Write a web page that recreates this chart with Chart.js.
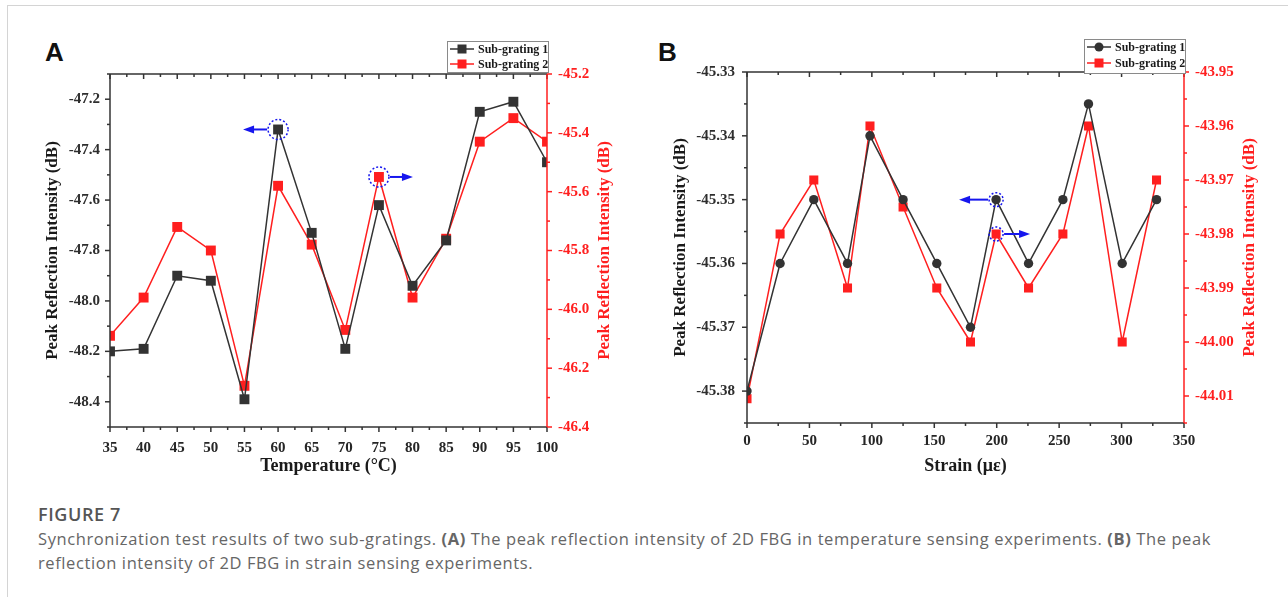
<!DOCTYPE html>
<html>
<head>
<meta charset="utf-8">
<title>Figure 7</title>
<script src="https://cdn.jsdelivr.net/npm/chart.js@4.4.0/dist/chart.umd.min.js"></script>
<style>
    body { margin: 0; background: #fff; width: 1288px; height: 597px; overflow: hidden; position: relative; font-family: 'Open Sans', 'Noto Sans', sans-serif; }
    .frame { position: absolute; left: 7px; top: 5px; right: 0; bottom: 0; border-left: 1px solid #d4d4d4; border-top: 1px solid #d4d4d4; }
    .panel-label { position: absolute; font: bold 26px/26px 'Liberation Sans', Arial, sans-serif; color: #111; }
    #chartA { position: absolute; left: 20px; top: 30px; }
    #chartB { position: absolute; left: 650px; top: 30px; }
    .caption { position: absolute; left: 38px; top: 502px; color: #666; letter-spacing: 0.6px; }
    .caption h4 { margin: 0; font-size: 18px; font-weight: 600; line-height: 25px; color: #555; }
    .caption p { margin: 0; font-size: 16.5px; line-height: 23.5px; }
</style>
</head>
<body>
<div class="frame"></div>
<div class="panel-label" style="left:45px; top:39px;">A</div>
<div class="panel-label" style="left:658px; top:39px;">B</div>
<canvas id="chartA" width="620" height="460"></canvas>
<canvas id="chartB" width="630" height="460"></canvas>
<div class="caption">
    <h4>FIGURE 7</h4>
    <p>Synchronization test results of two sub-gratings. <b>(A)</b> The peak reflection intensity of 2D FBG in temperature sensing experiments. <b>(B)</b> The peak<br>reflection intensity of 2D FBG in strain sensing experiments.</p>
</div>

<script>
// ---- data: panel A (temperature) ----
const seriesNames = ["Sub-grating 1", "Sub-grating 2"];
const yTitle = "Peak Reflection Intensity (dB)";

const tempC = [35, 40, 45, 50, 55, 60, 65, 70, 75, 80, 85, 90, 95, 100];
const tempSub1 = [-48.20, -48.19, -47.90, -47.92, -48.39, -47.32, -47.73, -48.19, -47.62, -47.94, -47.76, -47.25, -47.21, -47.45];
const tempSub2 = [-46.09, -45.96, -45.72, -45.80, -46.26, -45.58, -45.78, -46.07, -45.55, -45.96, -45.76, -45.43, -45.35, -45.43];
const tempTicksX = [35, 40, 45, 50, 55, 60, 65, 70, 75, 80, 85, 90, 95, 100];
const tempTicksLeft = [-48.4, -48.2, -48.0, -47.8, -47.6, -47.4, -47.2];
const tempTicksRight = [-46.4, -46.2, -46.0, -45.8, -45.6, -45.4, -45.2];

// ---- data: panel B (strain) ----
const strainUe = [0, 26.5, 53.5, 80.5, 98.5, 125, 152, 179, 199.5, 225.5, 253, 273.5, 300.5, 328];
const strainSub1 = [-45.38, -45.36, -45.35, -45.36, -45.34, -45.35, -45.36, -45.37, -45.35, -45.36, -45.35, -45.335, -45.36, -45.35];
const strainSub2 = [-44.0105, -43.98, -43.97, -43.99, -43.96, -43.975, -43.99, -44.00, -43.98, -43.99, -43.98, -43.96, -44.00, -43.97];
const strainTicksX = [0, 50, 100, 150, 200, 250, 300, 350];
const strainTicksLeft = [-45.38, -45.37, -45.36, -45.35, -45.34, -45.33];
const strainTicksRight = [-44.01, -44.00, -43.99, -43.98, -43.97, -43.96, -43.95];

const BLACK = "#333333";
const RED = "#ff1f1f";
const BLUE = "#1616ee";
const SERIF = "'Liberation Serif', 'Times New Roman', serif";

Chart.defaults.font.family = SERIF;

function pairs(xs, ys) {
    return xs.map((x, i) => ({ x: x, y: ys[i] }));
}

// walk major + minor tick positions of a scale
function eachTick(scale, fn) {
    const vals = scale.ticks.map(t => t.value);
    vals.forEach(v => fn(scale.getPixelForValue(v), true));
    if (vals.length < 2) return;
    const step = vals[1] - vals[0];
    const lo = Math.min(scale.min, scale.max), hi = Math.max(scale.min, scale.max);
    for (let v = vals[0] - step / 2; v <= hi + 1e-9; v += step) {
        if (v >= lo - 1e-9) fn(scale.getPixelForValue(v), false);
    }
}

// axes frame, ticks, right title, legend box and the blue markers
const figureExtras = {
    id: "figureExtras",
    afterDraw(chart, args, o) {
        const ctx = chart.ctx, a = chart.chartArea;
        const sx = chart.scales.x, sy = chart.scales.y, sy2 = chart.scales.y2;
        const seg = (x1, y1, x2, y2) => { ctx.beginPath(); ctx.moveTo(x1, y1); ctx.lineTo(x2, y2); ctx.stroke(); };

        ctx.save();
        ctx.lineWidth = 1.5;
        ctx.strokeStyle = BLACK;
        seg(a.left, a.top, a.right, a.top);
        seg(a.left, a.bottom, a.right, a.bottom);
        seg(a.left, a.top, a.left, a.bottom);
        eachTick(sx, (px, major) => {
            const len = major ? 5 : 3;
            seg(px, a.bottom, px, a.bottom + len);
            seg(px, a.top, px, a.top + len);
        });
        eachTick(sy, (py, major) => seg(a.left - (major ? 5 : 3), py, a.left, py));
        ctx.strokeStyle = RED;
        seg(a.right, a.top, a.right, a.bottom);
        eachTick(sy2, (py, major) => seg(a.right, py, a.right + (major ? 5 : 3), py));

        // right axis title, reads bottom to top like the left one
        ctx.save();
        ctx.translate(sy2.right - o.rTitleOff, (a.top + a.bottom) / 2);
        ctx.rotate(-Math.PI / 2);
        ctx.fillStyle = RED;
        ctx.font = "bold 17px " + SERIF;
        ctx.textAlign = "center";
        ctx.textBaseline = "middle";
        ctx.fillText(yTitle, 0, 0);
        ctx.restore();

        // blue dotted circles with arrows
        (o.marks || []).forEach(m => {
            const p = chart.getDatasetMeta(m.ds).data[m.idx];
            ctx.strokeStyle = BLUE;
            ctx.fillStyle = BLUE;
            ctx.lineWidth = 1.5;
            ctx.setLineDash([2, 2]);
            ctx.beginPath();
            ctx.arc(p.x, p.y, m.r, 0, Math.PI * 2);
            ctx.stroke();
            ctx.setLineDash([]);
            ctx.lineWidth = 2;
            const x0 = p.x + m.dir * (m.r + 1), x1 = p.x + m.dir * m.len;
            seg(x0, p.y, x1 - m.dir * 8, p.y);
            ctx.beginPath();
            ctx.moveTo(x1, p.y);
            ctx.lineTo(x1 - m.dir * 11, p.y - 4);
            ctx.lineTo(x1 - m.dir * 11, p.y + 4);
            ctx.closePath();
            ctx.fill();
        });

        // legend
        const lg = o.legend;
        if (lg) {
            ctx.fillStyle = "#fff";
            ctx.fillRect(lg.x, lg.y, lg.w, lg.h);
            ctx.strokeStyle = "#8a8a8a";
            ctx.lineWidth = 1;
            ctx.strokeRect(lg.x + 0.5, lg.y + 0.5, lg.w, lg.h);
            chart.data.datasets.forEach((ds, i) => {
                const ry = lg.rows[i];
                ctx.strokeStyle = ds.borderColor;
                ctx.lineWidth = 1.5;
                seg(lg.x + 3, ry, lg.x + 27, ry);
                ctx.fillStyle = ds.backgroundColor;
                if (ds.pointStyle === "circle") {
                    ctx.beginPath();
                    ctx.arc(lg.x + 15, ry, 4.5, 0, Math.PI * 2);
                    ctx.fill();
                } else {
                    ctx.fillRect(lg.x + 10.5, ry - 4.5, 9, 9);
                }
                ctx.fillStyle = "#1a1a1a";
                ctx.font = "bold 12px " + SERIF;
                ctx.textBaseline = "middle";
                ctx.textAlign = "left";
                ctx.fillText(ds.label, lg.x + 31, ry + 1);
            });
        }
        ctx.restore();
    }
};

function makeChart(id, cfg) {
    return new Chart(document.getElementById(id), {
        type: "line",
        data: {
            datasets: [{
                label: seriesNames[0],
                data: pairs(cfg.xs, cfg.s1),
                yAxisID: "y",
                borderColor: BLACK,
                backgroundColor: BLACK,
                borderWidth: 1.5,
                pointStyle: cfg.style1,
                pointRadius: cfg.r1,
                pointBorderWidth: 0,
                tension: 0
            }, {
                label: seriesNames[1],
                data: pairs(cfg.xs, cfg.s2),
                yAxisID: "y2",
                borderColor: RED,
                backgroundColor: RED,
                borderWidth: 1.5,
                pointStyle: "rect",
                pointRadius: cfg.r2,
                pointBorderWidth: 0,
                tension: 0
            }]
        },
        options: {
            responsive: false,
            animation: false,
            devicePixelRatio: 1,
            events: [],
            layout: { padding: { top: cfg.top, left: 0, right: 0, bottom: 0 } },
            scales: {
                x: {
                    type: "linear",
                    min: cfg.xMin, max: cfg.xMax,
                    afterBuildTicks: s => { s.ticks = cfg.ticksX.map(v => ({ value: v })); },
                    afterFit: s => { s.height = cfg.bottomH; },
                    grid: { display: false, drawTicks: false },
                    border: { display: false },
                    ticks: { autoSkip: false, maxRotation: 0, padding: cfg.xPad, color: "#262626", font: { size: 15, weight: "bold" } },
                    title: { display: true, text: cfg.xTitle, color: "#1a1a1a", font: { size: 18, weight: "bold" }, padding: { top: 0, bottom: 12.5 } }
                },
                y: {
                    position: "left",
                    min: cfg.yMin, max: cfg.yMax,
                    afterBuildTicks: s => { s.ticks = cfg.ticksL.map(v => ({ value: v })); },
                    afterFit: s => { s.width = cfg.leftW; },
                    grid: { display: false, drawTicks: false },
                    border: { display: false },
                    ticks: { padding: cfg.lPad, color: "#2e2e2e", font: { size: 15, weight: "bold" }, callback: v => v.toFixed(cfg.dec) },
                    title: { display: true, text: yTitle, color: "#1a1a1a", font: { size: 17, weight: "bold" }, padding: { top: cfg.lTitle, bottom: 0 } }
                },
                y2: {
                    position: "right",
                    min: cfg.y2Min, max: cfg.y2Max,
                    afterBuildTicks: s => { s.ticks = cfg.ticksR.map(v => ({ value: v })); },
                    afterFit: s => { s.width = cfg.rightW; },
                    grid: { display: false, drawTicks: false },
                    border: { display: false },
                    ticks: { padding: 11, color: RED, font: { size: 15, weight: "bold" }, callback: v => v.toFixed(cfg.dec) },
                    title: { display: false }
                }
            },
            plugins: {
                legend: { display: false },
                tooltip: { enabled: false },
                figureExtras: { legend: cfg.legend, marks: cfg.marks, rTitleOff: cfg.rTitleOff }
            }
        },
        plugins: [figureExtras]
    });
}

document.addEventListener("DOMContentLoaded", function() {

    // PANEL A - temperature
    makeChart("chartA", {
        xs: tempC, s1: tempSub1, s2: tempSub2,
        style1: "rect", r1: 7, r2: 7,
        xMin: 35, xMax: 100, ticksX: tempTicksX,
        yMin: -48.5, yMax: -47.1, ticksL: tempTicksLeft,
        y2Min: -46.4, y2Max: -45.2, ticksR: tempTicksRight,
        dec: 1,
        top: 44, bottomH: 63, leftW: 90, rightW: 93,
        xPad: 12, lPad: 10, lTitle: 22, rTitleOff: 35,
        xTitle: "Temperature (°C)",
        legend: { x: 427, y: 11, w: 101, h: 31, rows: [19, 34] },
        marks: [
            { ds: 0, idx: 5, dir: -1, r: 10, len: 35 },
            { ds: 1, idx: 8, dir: 1, r: 10, len: 34 }
        ]
    });

    // PANEL B - strain
    makeChart("chartB", {
        xs: strainUe, s1: strainSub1, s2: strainSub2,
        style1: "circle", r1: 4.7, r2: 6.4,
        xMin: 0, xMax: 350, ticksX: strainTicksX,
        yMin: -45.385, yMax: -45.33, ticksL: strainTicksLeft,
        y2Min: -44.015, y2Max: -43.95, ticksR: strainTicksRight,
        dec: 2,
        top: 42, bottomH: 67, leftW: 97, rightW: 96,
        xPad: 9, lPad: 12, lTitle: 20, rTitleOff: 30,
        xTitle: "Strain (με)",
        legend: { x: 434, y: 9, w: 101, h: 34, rows: [17, 33] },
        marks: [
            { ds: 0, idx: 8, dir: -1, r: 7, len: 37 },
            { ds: 1, idx: 8, dir: 1, r: 7, len: 34 }
        ]
    });
});
</script>
</body>
</html>
